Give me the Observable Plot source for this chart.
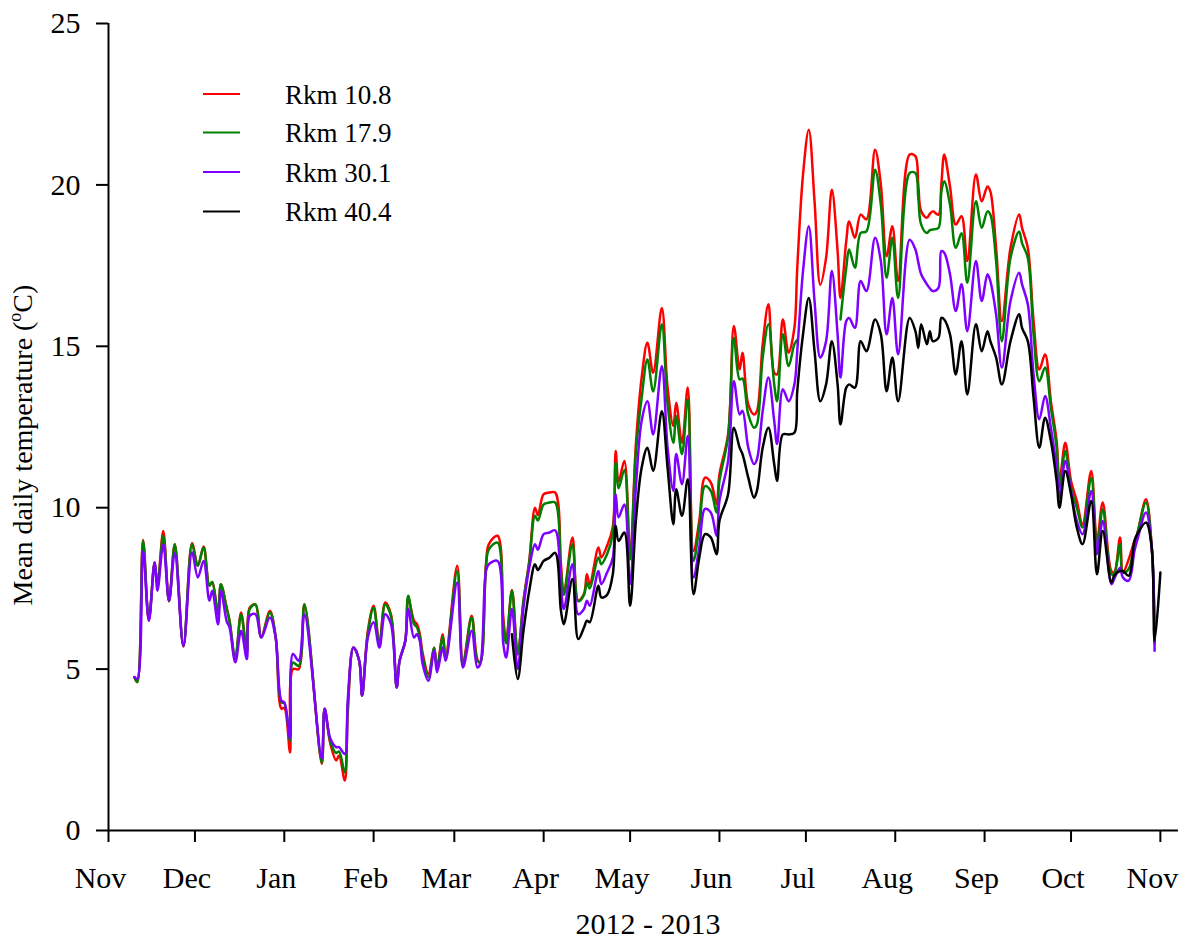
<!DOCTYPE html>
<html><head><meta charset="utf-8">
<script src="https://cdn.jsdelivr.net/npm/d3@7"></script>
<script src="https://cdn.jsdelivr.net/npm/@observablehq/plot@0.6"></script>
<style>
html,body{margin:0;padding:0;background:#fff}
#chart svg{display:block}
</style>
</head><body><div id="chart"></div>
<script>
// ---- data (mean daily temperature, °C) ----
const dates = [
"2012-11-10","2012-11-11","2012-11-13","2012-11-15","2012-11-17","2012-11-18","2012-11-20","2012-11-22","2012-11-24","2012-11-27","2012-11-30",
"2012-12-02","2012-12-04","2012-12-06","2012-12-07","2012-12-09","2012-12-10","2012-12-12","2012-12-13","2012-12-15","2012-12-17","2012-12-19","2012-12-20","2012-12-22","2012-12-24","2012-12-27","2012-12-29","2012-12-31",
"2013-01-01","2013-01-03","2013-01-04","2013-01-06","2013-01-08","2013-01-14","2013-01-15","2013-01-17","2013-01-19","2013-01-20","2013-01-22","2013-01-23","2013-01-25","2013-01-27","2013-01-28","2013-01-30",
"2013-02-01","2013-02-03","2013-02-05","2013-02-07","2013-02-09","2013-02-10","2013-02-12","2013-02-13","2013-02-15","2013-02-16","2013-02-17","2013-02-18","2013-02-20","2013-02-22","2013-02-23","2013-02-25","2013-02-26",
"2013-03-02","2013-03-04","2013-03-07","2013-03-09","2013-03-10","2013-03-12","2013-03-13","2013-03-16","2013-03-18","2013-03-19","2013-03-21","2013-03-23","2013-03-25","2013-03-27","2013-03-29","2013-03-30",
"2013-04-01","2013-04-03","2013-04-05","2013-04-07","2013-04-08","2013-04-11","2013-04-13","2013-04-15","2013-04-16","2013-04-17","2013-04-20","2013-04-21","2013-04-23","2013-04-25","2013-04-26","2013-04-27","2013-04-29",
"2013-05-01","2013-05-03","2013-05-05","2013-05-07","2013-05-09","2013-05-12","2013-05-14","2013-05-16","2013-05-17","2013-05-19","2013-05-21","2013-05-23","2013-05-25","2013-05-27","2013-05-29","2013-05-31",
"2013-06-01","2013-06-04","2013-06-06","2013-06-08","2013-06-09","2013-06-11","2013-06-13","2013-06-14","2013-06-16","2013-06-18","2013-06-20","2013-06-21","2013-06-23","2013-06-25","2013-06-27","2013-06-28","2013-06-30",
"2013-07-02","2013-07-04","2013-07-06","2013-07-08","2013-07-10","2013-07-12","2013-07-13","2013-07-15","2013-07-16","2013-07-18","2013-07-20","2013-07-22","2013-07-25","2013-07-27","2013-07-29","2013-07-31",
"2013-08-02","2013-08-06","2013-08-08","2013-08-09","2013-08-10","2013-08-12","2013-08-13","2013-08-14","2013-08-16","2013-08-17","2013-08-18","2013-08-20","2013-08-22","2013-08-24","2013-08-26","2013-08-29","2013-08-31",
"2013-09-02","2013-09-03","2013-09-05","2013-09-07","2013-09-10","2013-09-13","2013-09-14","2013-09-16","2013-09-18","2013-09-20","2013-09-22","2013-09-24","2013-09-26","2013-09-27","2013-09-29",
"2013-10-01","2013-10-03","2013-10-05","2013-10-08","2013-10-10","2013-10-12","2013-10-15","2013-10-16","2013-10-18","2013-10-19","2013-10-21","2013-10-23","2013-10-24","2013-10-27","2013-10-29","2013-10-30",
"2013-11-01"
];
const rkm108 = [
4.75,4.6,9.0,6.5,8.3,7.6,9.28,7.1,8.87,5.7,8.9,
8.2,8.8,7.6,7.7,6.7,7.63,6.9,6.5,5.3,6.75,5.5,6.9,7.0,6.0,6.8,6.0,3.77,
3.8,2.42,5.0,5.0,7.01,2.06,3.77,2.68,2.17,2.32,1.55,3.61,5.67,5.26,4.18,6.19,
6.96,5.78,7.06,6.7,4.43,5.26,5.88,7.2,6.5,6.4,6.1,5.5,4.85,5.67,5.05,6.08,5.36,
8.2,5.2,6.65,5.3,5.2,8.25,8.87,9.13,6.6,5.88,7.45,5.47,7.12,8.35,10.0,9.77,
10.42,10.47,10.47,8.25,7.33,9.08,7.12,7.33,7.94,7.63,8.77,8.46,8.82,9.4,11.76,10.8,11.45,
8.5,11.96,14.03,15.11,14.18,16.19,13.72,12.53,13.25,12.01,13.72,8.66,9.59,10.93,10.78,10.11,
11.03,12.27,15.63,14.28,14.8,13.2,12.89,12.99,15.06,16.3,14.18,14.13,15.83,14.8,15.57,17.43,20.32,
21.71,19.49,16.91,17.74,19.85,17.95,16.5,18.26,18.87,18.36,19.08,18.93,21.09,20.01,17.79,18.72,
17.02,20.94,20.89,20.0,19.18,18.98,19.1,19.18,19.08,20.01,20.94,19.95,18.77,19.03,17.64,20.32,19.49,
19.95,19.8,18.05,15.78,18.05,19.08,18.67,18.05,15.78,14.28,14.75,13.3,12.07,10.83,12.01,
10.83,10.21,9.49,11.14,8.97,10.16,8.04,8.0,9.08,7.99,8.4,8.97,9.2,10.26,8.77,5.8,
null
];
const rkm179 = [
4.75,4.6,8.97,6.55,8.3,7.6,9.13,7.1,8.87,5.72,8.87,
8.2,8.77,7.58,7.7,6.7,7.63,6.88,6.49,5.36,6.7,5.52,6.86,7.0,5.98,6.75,6.0,3.97,
3.95,2.78,5.2,5.1,7.0,2.1,3.77,2.75,2.4,2.45,1.8,3.8,5.67,5.26,4.18,6.1,
6.9,5.75,7.0,6.65,4.43,5.26,5.88,7.27,6.4,6.3,6.0,5.4,4.75,5.65,5.0,6.0,5.3,
8.04,5.1,6.6,5.26,5.2,8.2,8.71,8.92,6.39,5.8,7.43,5.45,7.1,8.3,9.75,9.6,
10.1,10.16,10.16,8.04,7.3,8.87,7.1,7.3,7.68,7.5,8.46,8.25,8.56,9.18,11.4,10.6,11.17,
8.4,11.7,13.4,14.59,13.6,15.68,13.2,12.01,12.84,11.66,13.36,8.35,9.39,10.67,10.52,9.85,
10.83,12.2,15.26,13.97,14.0,12.89,12.48,12.58,14.65,15.68,13.82,13.3,15.37,14.39,15.06,15.2,null,
null,null,null,null,null,null,15.83,17.43,18.0,17.43,18.51,18.56,20.47,19.39,17.12,18.36,
16.5,20.37,20.37,19.6,18.77,18.51,18.6,18.62,18.67,19.8,20.11,19.39,18.05,18.5,16.97,19.49,18.67,
19.18,19.08,17.64,15.16,17.74,18.56,18.2,17.74,15.37,13.92,14.34,13.1,11.86,10.62,11.76,
10.6,10.0,9.39,10.93,8.77,9.95,7.94,7.95,8.87,7.99,8.1,8.9,9.2,10.16,8.77,5.8,
null
];
const rkm301 = [
4.75,4.7,8.66,6.5,8.3,7.43,8.87,7.12,8.6,5.72,8.61,
7.84,8.35,7.12,7.43,6.39,7.43,6.49,6.29,5.21,6.19,5.31,6.65,6.7,5.98,6.6,5.98,4.02,
3.97,2.85,5.47,5.26,6.7,2.22,3.77,2.84,2.58,2.58,2.37,4.02,5.67,5.26,4.18,5.98,
6.45,5.67,6.7,6.4,4.43,5.26,5.88,6.86,5.98,6.08,5.88,5.16,4.64,5.57,4.9,5.67,5.26,
7.68,5.05,6.19,5.05,5.16,8.04,8.25,8.35,5.78,5.36,6.86,5.0,6.91,8.14,8.87,8.7,
9.18,9.23,9.3,7.53,6.86,8.25,6.7,6.86,7.12,6.96,8.04,7.63,7.99,8.45,10.42,9.7,10.1,
7.64,10.62,12.69,13.3,12.27,14.39,11.86,10.52,11.66,10.73,12.22,7.84,8.77,9.96,9.85,9.13,
10.21,11.45,13.92,12.89,13.0,11.86,11.35,11.5,12.99,14.03,12.69,11.97,13.67,13.3,13.82,14.85,17.33,
18.72,16.4,14.65,15.16,17.33,15.37,14.03,15.78,15.88,15.57,17.02,16.71,18.36,17.64,15.37,16.5,
14.75,18.3,18.0,17.6,17.23,16.92,16.8,16.71,16.81,17.95,17.9,17.23,16.09,16.92,15.47,17.64,16.4,
17.23,17.02,15.99,14.34,16.4,17.28,16.92,16.3,14.13,12.74,13.46,12.48,11.24,10.31,11.45,
10.5,9.59,9.18,10.52,8.56,9.59,7.63,7.8,8.14,7.84,7.74,8.66,9.0,9.85,8.77,5.57,
null
];
const rkm404 = [
null,null,null,null,null,null,null,null,null,null,null,
null,null,null,null,null,null,null,null,null,null,null,null,null,null,null,null,null,
null,null,null,null,null,null,null,null,null,null,null,null,null,null,null,null,
null,null,null,null,null,null,null,null,null,null,null,null,null,null,null,null,null,
null,null,null,null,null,null,null,null,null,null,6.08,4.69,6.19,7.43,8.25,8.07,
8.35,8.45,8.6,6.81,6.39,7.79,5.93,6.29,6.5,6.45,7.58,7.22,7.3,7.94,9.44,8.97,9.23,
6.96,9.59,11.24,11.86,11.14,12.99,11.24,9.49,10.57,9.75,10.88,7.32,8.46,9.18,9.08,8.56,
9.59,10.42,12.48,11.86,11.66,10.93,10.31,10.52,11.86,12.48,11.35,10.83,12.27,12.27,12.32,13.61,15.37,
16.5,14.85,13.3,13.82,15.16,13.82,12.58,13.72,13.82,13.72,15.16,14.85,15.83,15.37,13.61,14.65,
13.3,15.88,15.47,14.95,15.68,15.06,15.47,15.16,15.26,15.88,15.83,15.37,14.13,15.16,13.51,15.68,14.85,
15.47,15.16,14.65,13.82,15.16,15.99,15.57,15.16,13.41,11.86,12.79,12.07,10.83,10.0,11.14,
10.42,9.39,8.87,10.21,7.94,9.28,7.68,7.9,8.04,8.04,7.89,8.97,9.18,9.54,8.77,5.88,
7.99
];
const seriesNames = ["Rkm 10.8", "Rkm 17.9", "Rkm 30.1", "Rkm 40.4"];
const seriesValues = [rkm108, rkm179, rkm301, rkm404];
const seriesColors = ["#ff0000", "#008000", "#8000ff", "#000000"];
const monthTicks = ["2012-11-01","2012-12-01","2013-01-01","2013-02-01","2013-03-01","2013-04-01","2013-05-01","2013-06-01","2013-07-01","2013-08-01","2013-09-01","2013-10-01","2013-11-01"];
const monthLabels = ["Nov","Dec","Jan","Feb","Mar","Apr","May","Jun","Jul","Aug","Sep","Oct","Nov"];
const yTicks = [0, 5, 10, 15, 20, 25];
const xStart = "2012-11-01";
const xEnd = "2013-11-07T07:00";
const xTitle = "2012 - 2013";
const yTitle = "Mean daily temperature (";
const yTitleSup = "o";
const yTitleEnd = "C)";

// ---- build the long table ----
const toDate = s => new Date(s + (s.length === 10 ? "T00:00Z" : "Z"));
const rows = [];
seriesNames.forEach((name, i) => {
  dates.forEach((d, j) => {
    const v = seriesValues[i][j];
    rows.push({date: toDate(d), value: v == null ? NaN : v, series: name});
  });
});
const tickDates = monthTicks.map(toDate);
const labelOf = new Map(tickDates.map((d, i) => [+d, monthLabels[i]]));

const font = "'Liberation Serif', 'Times New Roman', serif";
const W = 1189, H = 941;
const chart = Plot.plot({
  width: W, height: H,
  marginLeft: 108, marginRight: 11, marginTop: 23, marginBottom: 111,
  style: {fontFamily: font, fontSize: "30px", color: "#000", background: "#fff", overflow: "visible"},
  x: {type: "utc", domain: [toDate(xStart), toDate(xEnd)]},
  y: {domain: [0, 25]},
  color: {domain: seriesNames, range: seriesColors},
  marks: [
    Plot.line(rows, {x: "date", y: "value", z: "series", stroke: "series", strokeWidth: 2.5, curve: "catmull-rom"}),
    Plot.ruleY([0], {stroke: "#000", strokeWidth: 2}),
    Plot.ruleX([toDate(xStart)], {stroke: "#000", strokeWidth: 2}),
    Plot.axisY({ticks: yTicks, tickSize: 12, tickPadding: 16, strokeWidth: 2, label: null, fontSize: 30}),
    // tick marks
    Plot.axisX({ticks: tickDates, tickSize: 12, strokeWidth: 2, tickFormat: () => "", label: null}),
    // tick labels (slightly left of their ticks, as in the reference)
    Plot.axisX({ticks: tickDates, tickSize: 0, tickPadding: 36, tickFormat: d => labelOf.get(+d), label: null, fontSize: 30, dx: -8})
  ]
});
document.getElementById("chart").appendChild(chart);

// ---- titles and legend ----
const svg = d3.select(chart);
svg.append("text")
  .attr("x", 648).attr("y", 934)
  .attr("text-anchor", "middle")
  .attr("font-family", font).attr("font-size", 30).attr("fill", "#000")
  .text(xTitle);
const yt = svg.append("text")
  .attr("transform", "translate(32,445) rotate(-90)")
  .attr("text-anchor", "middle")
  .attr("font-family", font).attr("font-size", 28).attr("fill", "#000");
yt.append("tspan").text(yTitle);
yt.append("tspan").attr("font-size", 18).attr("dy", -11).text(yTitleSup);
yt.append("tspan").attr("dy", 11).text(yTitleEnd);

const legend = svg.append("g");
const legendY = [94, 132.5, 172, 211.5];
seriesNames.forEach((name, i) => {
  legend.append("line")
    .attr("x1", 203).attr("x2", 240).attr("y1", legendY[i]).attr("y2", legendY[i])
    .attr("stroke", seriesColors[i]).attr("stroke-width", 2);
  legend.append("text")
    .attr("x", 285).attr("y", legendY[i] + 9.5)
    .attr("text-anchor", "start")
    .attr("font-family", font).attr("font-size", 27).attr("fill", "#000")
    .text(name);
});
</script>
</body></html>
